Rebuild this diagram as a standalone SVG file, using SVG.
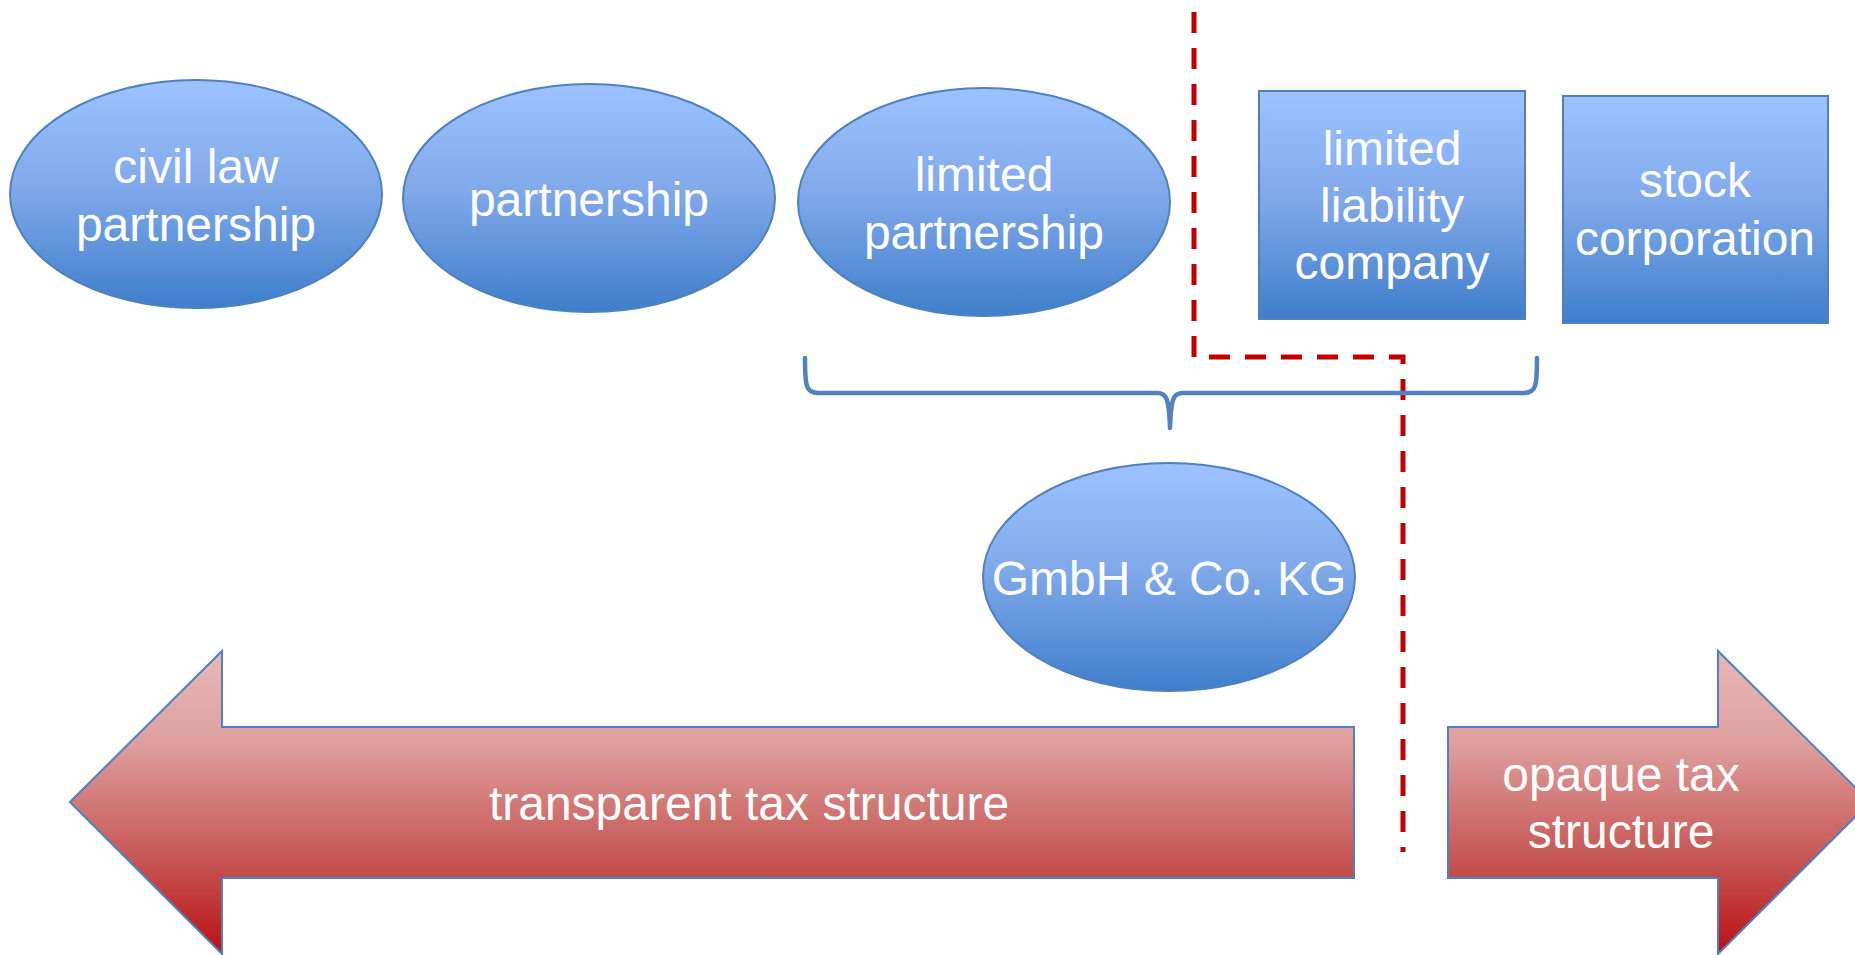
<svg xmlns="http://www.w3.org/2000/svg" width="1855" height="955" viewBox="0 0 1855 955">
<style>
.node{stroke:#4F81BD;stroke-width:2;fill:url(#blueGrad)}
.arrow{stroke:#4F81BD;stroke-width:2;fill:url(#redGrad)}
.lbl{font-family:"Liberation Sans",Arial,sans-serif;font-size:48px;fill:#FFFFFF;text-anchor:middle}
.brace{fill:none;stroke:#5282C0;stroke-width:4.5;stroke-linecap:round;stroke-linejoin:round}
.divider{fill:none;stroke:#C00000;stroke-width:5;stroke-dasharray:21 15}
</style>
<defs>
<linearGradient id="blueGrad" x1="0" y1="0" x2="0" y2="1">
<stop offset="0" stop-color="#9CC3FF"/>
<stop offset="0.45" stop-color="#82AAEB"/>
<stop offset="1" stop-color="#3F7ECB"/>
</linearGradient>
<linearGradient id="redGrad" x1="0" y1="0" x2="0" y2="1">
<stop offset="0" stop-color="#E6B9B8"/>
<stop offset="0.3" stop-color="#DEA09F"/>
<stop offset="0.7" stop-color="#C55352"/>
<stop offset="1" stop-color="#BC1012"/>
</linearGradient>
</defs>
<rect width="1855" height="955" fill="#FFFFFF"/>

<g id="connectors">
<path class="divider" d="M1194,12 L1194,357 L1403,357 L1403,852"/>
<path class="brace" d="M805,358 C805,386 806,393 818,393 L1157,393 C1166,393 1169,397 1170,428 C1171,397 1174,393 1183,393 L1524,393 C1536,393 1537,386 1537,358"/>
</g>

<g id="civil-law-partnership">
<ellipse class="node" cx="196" cy="194" rx="186" ry="114"/>
<text class="lbl" x="196" y="183">civil law</text>
<text class="lbl" x="196" y="241">partnership</text>
</g>

<g id="partnership">
<ellipse class="node" cx="589" cy="198" rx="186" ry="114"/>
<text class="lbl" x="589" y="216">partnership</text>
</g>

<g id="limited-partnership">
<ellipse class="node" cx="984" cy="202" rx="186" ry="114"/>
<text class="lbl" x="984" y="191">limited</text>
<text class="lbl" x="984" y="249">partnership</text>
</g>

<g id="limited-liability-company">
<rect class="node" x="1259" y="91" width="266" height="228"/>
<text class="lbl" x="1392" y="165">limited</text>
<text class="lbl" x="1392" y="222">liability</text>
<text class="lbl" x="1392" y="279">company</text>
</g>

<g id="stock-corporation">
<rect class="node" x="1563" y="96" width="265" height="227"/>
<text class="lbl" x="1695" y="197">stock</text>
<text class="lbl" x="1695" y="255">corporation</text>
</g>

<g id="gmbh-co-kg">
<ellipse class="node" cx="1169" cy="577" rx="186" ry="114"/>
<text class="lbl" x="1169" y="595">GmbH &amp; Co. KG</text>
</g>

<g id="transparent-tax-structure">
<path class="arrow" d="M70,802 L222,651 L222,727 L1354,727 L1354,878 L222,878 L222,954 Z"/>
<text class="lbl" x="749" y="820">transparent tax structure</text>
</g>

<g id="opaque-tax-structure">
<path class="arrow" d="M1448,727 L1718,727 L1718,651 L1870,802 L1718,954 L1718,878 L1448,878 Z"/>
<text class="lbl" x="1621" y="791">opaque tax</text>
<text class="lbl" x="1621" y="848">structure</text>
</g>
</svg>
